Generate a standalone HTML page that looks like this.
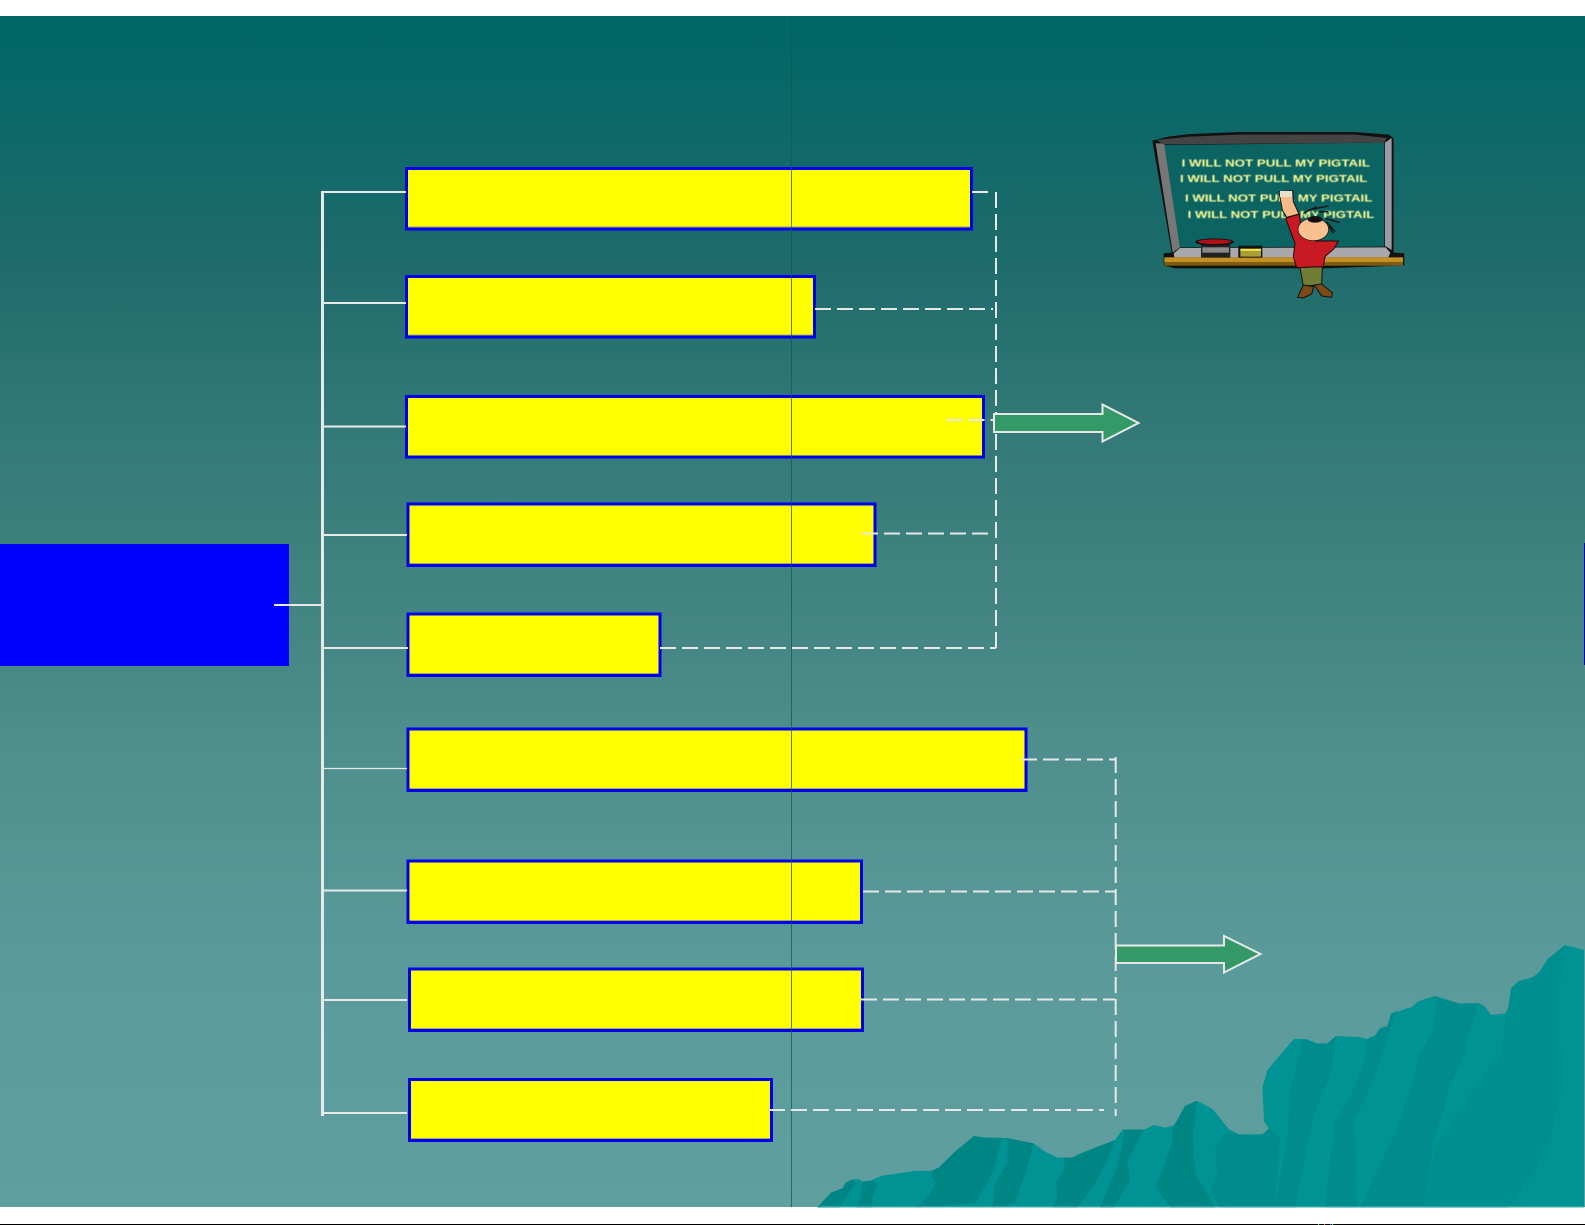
<!DOCTYPE html>
<html lang="en">
<head>
<meta charset="utf-8">
<title>Diagram</title>
<style>
html,body{margin:0;padding:0;background:#fff;width:1585px;height:1225px;overflow:hidden}
svg{display:block}
</style>
</head>
<body>
<svg width="1585" height="1225" viewBox="0 0 1585 1225" xmlns="http://www.w3.org/2000/svg">
<defs>
<linearGradient id="bg" x1="0" y1="16" x2="0" y2="1207" gradientUnits="userSpaceOnUse">
<stop offset="0" stop-color="#006666"/>
<stop offset=".2" stop-color="#1e6b6b"/>
<stop offset=".36" stop-color="#347a78"/>
<stop offset=".49" stop-color="#428482"/>
<stop offset=".61" stop-color="#4e8e8c"/>
<stop offset=".79" stop-color="#5a9a9a"/>
<stop offset="1" stop-color="#5f9f9f"/>
</linearGradient>
<filter id="soft" x="-5%" y="-30%" width="110%" height="160%"><feGaussianBlur stdDeviation="1.2"/></filter>
</defs>
<rect width="1585" height="1225" fill="#fff"/>
<rect x="0" y="16" width="1585" height="1191" fill="url(#bg)"/>
<rect x="0" y="1224" width="1585" height="1" fill="#000"/>
<rect x="1318" y="1224" width="1" height="1" fill="#3f3"/>
<rect x="1324" y="1224" width="1" height="1" fill="#f63"/>
<rect x="1330" y="1224" width="1" height="1" fill="#36f"/>
<rect x="1332" y="1224" width="1" height="1" fill="#3f3"/>

<!-- mountains -->
<g transform="translate(800,920) scale(.5,.33333)">
<polygon fill="#009393" points="35,862 62,818 85,805 92,787 105,778 118,778 125,785 140,782 165,767 228,753 265,752 278,742 310,695 348,648 370,653 415,654 440,663 467,670 490,695 515,713 545,713 560,700 630,660 645,629 688,629 708,615 730,623 752,615 770,558 794,542 825,567 858,628 878,643 925,643 938,625 928,605 925,500 935,450 960,405 988,357 1012,357 1035,371 1055,370 1072,348 1118,351 1133,357 1150,347 1160,325 1175,318 1182,282 1225,260 1235,245 1270,228 1320,251 1357,249 1370,260 1382,285 1410,281 1421,250 1422,205 1438,183 1465,172 1478,158 1495,118 1530,75 1568,90 1568,862"/>
<g fill="#008585">
<polygon points="35,862 62,818 85,805 92,787 105,778 112,790 100,815 80,862"/>
<polygon points="125,785 140,782 155,790 145,830 143,862 112,862 122,830"/>
<polygon points="265,752 278,742 310,695 348,648 370,653 405,654 385,760 350,850 235,862 258,825 272,790 262,770"/>
<polygon points="415,654 467,670 455,740 430,850 385,862 390,790 415,730"/>
<polygon points="528,713 545,713 630,660 615,720 590,790 555,862 505,862 515,830 512,785 528,750"/>
<polygon points="650,629 688,629 655,720 660,780 628,862 600,862 635,740"/>
<polygon points="745,625 770,558 794,542 785,650 790,760 830,862 740,862 712,800 745,670"/>
</g>
<g fill="#008c8c">
<polygon points="850,640 878,643 925,643 938,625 960,650 950,862 840,862 820,810 835,770 830,680"/>
<polygon points="1005,357 1035,371 1055,370 1072,348 1060,470 1030,570 990,862 950,862 975,650 980,520"/>
<polygon points="1135,357 1150,347 1160,325 1175,318 1182,282 1195,272 1170,380 1150,470 1110,600 1115,862 1050,862 1070,610 1110,500 1130,420"/>
<polygon points="1275,235 1320,251 1357,249 1340,330 1330,400 1300,500 1265,680 1250,862 1120,862 1190,640 1225,490 1240,400 1265,340"/>
</g>
<g fill="#008f8f">
<polygon points="1422,205 1438,183 1465,172 1478,158 1495,118 1530,75 1518,240 1525,500 1495,700 1420,862 1250,862 1270,680 1350,500 1405,380"/>
</g>
</g>
<rect x="820" y="1206" width="765" height="1" fill="#2aa5a5"/>

<!-- blue box -->
<rect x="0" y="544" width="289" height="122" fill="#0000ff"/>
<rect x="1584" y="543" width="1" height="122" fill="#0000cc"/>

<!-- yellow boxes -->
<g fill="#ffff00" stroke="#0000f0" stroke-width="3">
<rect x="406.5" y="168.5" width="565" height="60.5"/>
<rect x="406.5" y="276.5" width="408" height="60.5"/>
<rect x="406.5" y="396.5" width="577" height="60.5"/>
<rect x="408" y="504" width="467" height="61.5"/>
<rect x="408" y="614" width="252" height="61.5"/>
<rect x="408" y="729" width="618" height="61.5"/>
<rect x="408" y="861" width="453.500" height="61.5"/>
<rect x="409.5" y="969" width="453" height="61.5"/>
<rect x="409.5" y="1079.5" width="362" height="61"/>
</g>
<g stroke="#a8a860" stroke-width="1" fill="none">
<path d="M408 227H970M408 335H813M409.500 563.500H873.500M409.500 673.500H658.500M409.500 788.500H1024.500M409.500 920.500H860M411 1028.500H861M411 1138.500H770"/>
</g>

<!-- vertical guide line -->
<rect x="791" y="16" width="1" height="1191" fill="#0a5a5a" opacity=".72"/>

<!-- solid tree -->
<g stroke="#e8e8e8" fill="none">
<path d="M322.500 191V1116" stroke-width="3"/>
<path d="M274 605H321" stroke-width="2"/>
<path d="M322 192H406M322 303H406M322 426.500H406M322 535H407M322 648H408M322 890.500H407M322 1000H407M322 1113H407" stroke-width="2"/>
<path d="M322 768.500H407" stroke-width="1.300"/>
</g>

<!-- dashed connectors -->
<g stroke="#e8e8e8" stroke-width="2" fill="none" stroke-dasharray="16 6">
<path d="M996 192V648"/>
<path d="M660 648H996"/>
<path d="M862 533.500H988"/>
<path d="M815 309H993"/>
<path d="M972 192H988"/>
<path d="M946.500 420H993"/>
<path d="M1115.700 757V1116"/>
<path d="M1021 759.500H1115"/>
<path d="M863 891.500H1115"/>
<path d="M861 999.500H1115"/>
<path d="M769 1110H1104"/>
</g>

<!-- arrows -->
<polygon points="994,414 1102.500,414 1102.500,404.500 1138.500,423 1102.500,441.500 1102.500,432 994,432" fill="#339966" stroke="#e8e8e8" stroke-width="2"/>
<polygon points="1116,945.500 1224,945.500 1224,936 1260.500,954 1224,972.500 1224,963 1116,963" fill="#339966" stroke="#e8e8e8" stroke-width="2"/>

<!-- blackboard clipart -->
<g transform="translate(1125,110) scale(.33333)">
<polygon points="82,92 130,80 195,72 345,66 690,66 792,74 806,85 806,428 838,430 838,466 600,475 150,475 116,466 116,430 140,428" fill="#111"/>
<polygon points="92,100 118,100 165,412 143,428" fill="#777"/>
<polygon points="95,90 195,80 345,74 690,74 785,84 778,98 115,103" fill="#444"/>
<polygon points="780,98 800,84 800,420 780,408" fill="#9a9aa0"/>
<polygon points="118,105 778,98 778,410 165,412" fill="#0b6362"/>
<polygon points="165,414 782,412 796,428 790,442 148,442 146,430" fill="#a9a9ad"/>
<rect x="118" y="442" width="716" height="14" fill="#c48f24"/>
<rect x="118" y="456" width="716" height="11" fill="#7e5c12"/>
<g font-family="'Liberation Sans',sans-serif" font-weight="bold" font-size="30" fill="#ffff99" filter="url(#soft)">
<text x="170" y="170" textLength="565" lengthAdjust="spacingAndGlyphs">I WILL NOT PULL MY PIGTAIL</text>
<text x="165" y="216" textLength="562" lengthAdjust="spacingAndGlyphs">I WILL NOT PULL MY PIGTAIL</text>
<text x="180" y="274" textLength="562" lengthAdjust="spacingAndGlyphs">I WILL NOT PULL MY PIGTAIL</text>
<text x="188" y="324" textLength="560" lengthAdjust="spacingAndGlyphs">I WILL NOT PULL MY PIGTAIL</text>
</g>
<!-- eraser and chalk -->
<rect x="228" y="403" width="88" height="40" fill="#222"/>
<rect x="232" y="412" width="80" height="16" fill="#8a8a8a"/>
<ellipse cx="269" cy="396" rx="58" ry="11" fill="#111"/>
<ellipse cx="269" cy="395" rx="50" ry="7" fill="#b01018"/>
<rect x="340" y="407" width="72" height="36" fill="#111"/>
<rect x="346" y="416" width="62" height="8" fill="#f0e050"/>
<rect x="346" y="424" width="62" height="16" fill="#a8a030"/>
<!-- person -->
<polygon points="525,472 592,470 590,525 535,528" fill="#6f7d35" stroke="#111" stroke-width="3"/>
<polygon points="535,525 566,530 560,552 535,564 518,562" fill="#7b4a16" stroke="#111" stroke-width="3"/>
<polygon points="568,525 590,522 622,548 620,562 590,558" fill="#7b4a16" stroke="#111" stroke-width="3"/>
<path d="M482 325L522 312L530 360Q550 395 580 393L640 393L628 415L600 440L595 470L515 473L505 440L510 400Z" fill="#c81a22" stroke="#2a0505" stroke-width="3"/>
<polygon points="472,300 462,245 503,242 505,275 522,312 485,322" fill="#f5b98a" stroke="#111" stroke-width="3"/>
<rect x="465" y="243" width="36" height="18" fill="#e8e0c8"/>
<ellipse cx="565" cy="358" rx="46" ry="34" fill="#fbc090" stroke="#111" stroke-width="2"/>
<ellipse cx="570" cy="328" rx="22" ry="10" fill="#111"/>
<g stroke="#111" stroke-width="4" fill="none">
<path d="M535 310L575 290M550 300L610 288M580 305L610 305M600 325L645 338M605 335L630 365M612 350L625 370"/>
</g>
</g>
</svg>
</body>
</html>
